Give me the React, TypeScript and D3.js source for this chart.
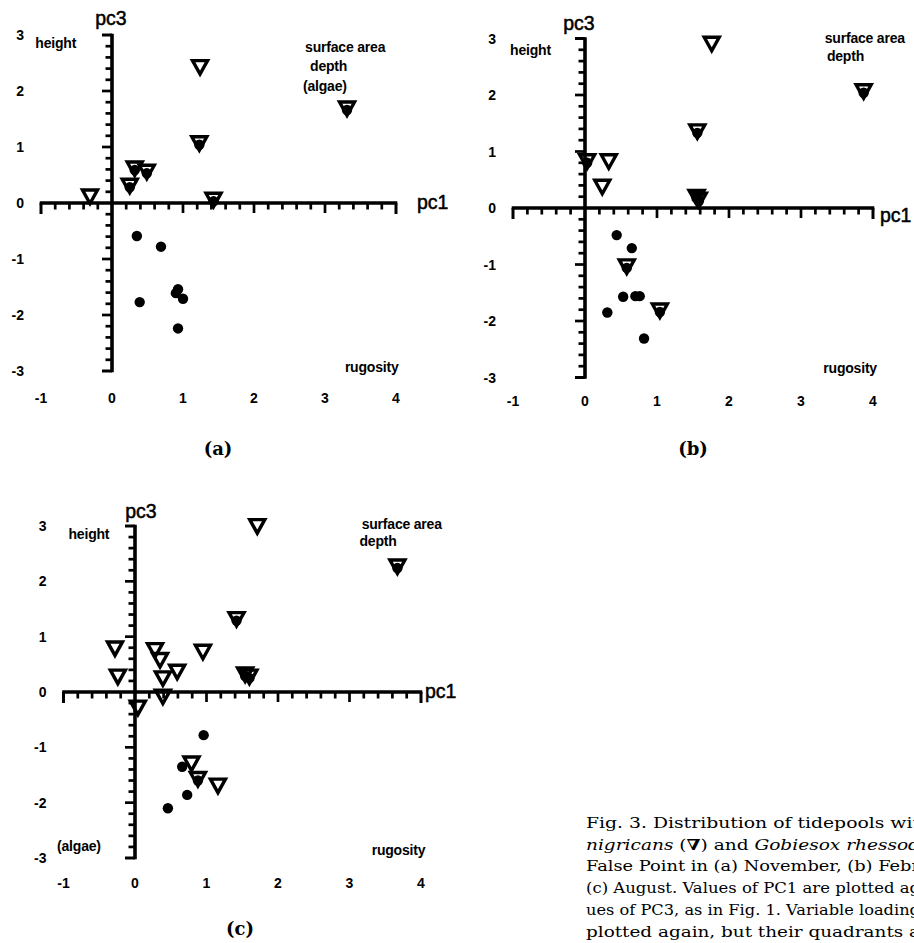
import React from "react";
import * as d3 from "d3";

// Axis tick values (PC1 horizontal, PC3 vertical)
const pc1TickValues = [-1, 0, 1, 2, 3, 4];
const pc3TickValues = [-3, -2, -1, 0, 1, 2, 3];

// Tidepool scores [pc1, pc3]; pools holding both species appear in both lists
// (a) November
const novNigricans: [number, number][] = [
  [1.24, 2.4], [3.31, 1.66], [1.23, 1.04], [0.32, 0.59], [0.49, 0.53],
  [0.25, 0.28], [-0.31, 0.09], [1.43, 0.03],
];
const novGobiesox: [number, number][] = [
  [3.31, 1.66], [1.23, 1.04], [0.32, 0.59], [0.49, 0.53], [0.25, 0.28], [1.43, 0.03],
  [0.35, -0.59], [0.69, -0.78], [0.93, -1.54], [0.9, -1.61],
  [1.0, -1.71], [0.39, -1.77], [0.93, -2.24],
];

// (b) February
const febNigricans: [number, number][] = [
  [1.76, 2.88], [3.87, 2.04], [1.56, 1.33], [0.03, 0.8], [0.33, 0.8],
  [0.24, 0.35], [1.55, 0.17], [1.58, 0.12], [0.58, -1.06], [1.04, -1.84],
];
const febGobiesox: [number, number][] = [
  [3.87, 2.04], [1.56, 1.33], [0.03, 0.8], [1.55, 0.17], [1.58, 0.12],
  [0.58, -1.06], [1.04, -1.84],
  [0.44, -0.48], [0.65, -0.71], [0.53, -1.57], [0.7, -1.56],
  [0.76, -1.56], [0.31, -1.85], [0.82, -2.31],
];

// (c) August
const augNigricans: [number, number][] = [
  [1.71, 2.97], [3.67, 2.24], [1.42, 1.29], [-0.28, 0.76], [0.28, 0.73],
  [0.35, 0.55], [0.95, 0.7], [0.59, 0.34], [-0.24, 0.25], [0.39, 0.22],
  [1.54, 0.29], [1.6, 0.25], [0.39, -0.11], [0.04, -0.31], [0.79, -1.32],
  [0.88, -1.6], [1.16, -1.72],
];
const augGobiesox: [number, number][] = [
  [3.67, 2.24], [1.42, 1.29], [1.54, 0.29], [1.6, 0.25], [0.88, -1.6],
  [0.96, -0.78], [0.66, -1.35], [0.73, -1.86], [0.46, -2.1],
];

// Variable loading labels: text, pc1, pc3 (text start, baseline)
const novLoadings: [string, number, number][] = [
  ["height", -1.08, 2.77],
  ["surface area", 2.72, 2.69],
  ["depth", 2.79, 2.36],
  ["(algae)", 2.69, 2.0],
  ["rugosity", 3.28, -3.01],
];
const febLoadings: [string, number, number][] = [
  ["height", -1.04, 2.7],
  ["surface area", 3.33, 2.92],
  ["depth", 3.36, 2.6],
  ["rugosity", 3.31, -2.92],
];
const augLoadings: [string, number, number][] = [
  ["height", -0.93, 2.76],
  ["surface area", 3.17, 2.94],
  ["depth", 3.14, 2.64],
  ["(algae)", -1.09, -2.87],
  ["rugosity", 3.31, -2.95],
];

const captionLines = [
  "Fig. 3. Distribution of tidepools wit",
  "nigricans (\u2207) and Gobiesox rhessod",
  "False Point in (a) November, (b) Febr",
  "(c) August. Values of PC1 are plotted ag",
  "ues of PC3, as in Fig. 1. Variable loading",
  "plotted again, but their quadrants a",
];

type Layout = {
  left: number; right: number; top: number; bottom: number;
  tickLabelGap: number;
  pc1X: number; pc1Y: number;
  pc3X: number; pc3Y: number;
  tagX: number; tagY: number; tag: string;
};

const SANS = "'Liberation Sans', Arial, Helvetica, sans-serif";
const SERIF = "'DejaVu Serif', 'Liberation Serif', serif";

// Downward triangle, anchored a little below its box centre
const trianglePath = "M-7.5,-8L7.5,-8L0,5.5Z";

function Panel({
  layout, nigricans, gobiesox, loadings,
}: {
  layout: Layout;
  nigricans: [number, number][];
  gobiesox: [number, number][];
  loadings: [string, number, number][];
}) {
  const x = d3.scaleLinear().domain([-1, 4]).range([layout.left, layout.right]);
  const y = d3.scaleLinear().domain([-3, 3]).range([layout.bottom, layout.top]);
  const x0 = x(0);
  const y0 = y(0);
  const isMajor = (v: number) => Math.abs(v - Math.round(v)) < 1e-6;
  const xMinor = d3.range(0, 26).map((i) => -1 + i * 0.2);
  const yMinor = d3.range(0, 31).map((i) => -3 + i * 0.2);

  return (
    <g>
      {/* PC1 axis with ticks hanging below */}
      <line x1={x(-1) - 1.3} x2={x(4) + 1.3} y1={y0} y2={y0} stroke="#000" strokeWidth={3.6} />
      {xMinor.map((v, i) => {
        if (Math.abs(v) < 1e-6) return null;
        const end = Math.abs(v + 1) < 1e-6 || Math.abs(v - 4) < 1e-6;
        const len = end ? 11 : isMajor(v) ? 10 : 6.5;
        return (
          <line key={"xt" + i} x1={x(v)} x2={x(v)} y1={y0} y2={y0 + len}
            stroke="#000" strokeWidth={end ? 3 : 2.7} />
        );
      })}
      {/* PC3 axis with ticks to the left */}
      <line x1={x0} x2={x0} y1={y(3) - 1.3} y2={y(-3) + 1.3} stroke="#000" strokeWidth={3.6} />
      {yMinor.map((v, i) => {
        if (Math.abs(v) < 1e-6) return null;
        const end = Math.abs(Math.abs(v) - 3) < 1e-6;
        const len = end ? 10 : isMajor(v) ? 10 : 6.5;
        return (
          <line key={"yt" + i} x1={x0 - len} x2={x0} y1={y(v)} y2={y(v)}
            stroke="#000" strokeWidth={end ? 3 : 2.7} />
        );
      })}
      {/* Tick labels */}
      {pc1TickValues.map((v) => (
        <text key={"xl" + v} x={x(v)} y={layout.bottom + layout.tickLabelGap}
          textAnchor="middle" fontFamily={SANS} fontWeight="bold" fontSize={14}>
          {v}
        </text>
      ))}
      {pc3TickValues.map((v) => (
        <text key={"yl" + v} x={layout.left - 17} y={y(v)} dy="0.36em"
          textAnchor="end" fontFamily={SANS} fontWeight="bold" fontSize={14}>
          {v}
        </text>
      ))}
      {/* Axis names */}
      <text x={layout.pc3X} y={layout.pc3Y} textAnchor="middle" fontFamily={SANS} fontSize={19.5}
        stroke="#000" strokeWidth={0.5}>pc3</text>
      <text x={layout.pc1X} y={layout.pc1Y} fontFamily={SANS} fontSize={19.5}
        stroke="#000" strokeWidth={0.5}>pc1</text>
      {/* Variable loadings */}
      {loadings.map(([t, a, b]) => (
        <text key={t} x={x(a)} y={y(b)} fontFamily={SANS} fontWeight="bold"
          fontSize={14} letterSpacing={-0.2}>
          {t}
        </text>
      ))}
      {/* Gobiesox pools */}
      {gobiesox.map(([a, b], i) => (
        <circle key={"g" + i} cx={x(a)} cy={y(b)} r={5.2} fill="#000" />
      ))}
      {/* nigricans pools */}
      {nigricans.map(([a, b], i) => (
        <path key={"n" + i} d={trianglePath} transform={`translate(${x(a)},${y(b)})`}
          fill="none" stroke="#000" strokeWidth={3.4} strokeLinejoin="miter" />
      ))}
      {/* Panel tag */}
      <text x={layout.tagX} y={layout.tagY} textAnchor="middle" fontFamily={SERIF}
        fontWeight="bold" fontSize={18}>
        {layout.tag}
      </text>
    </g>
  );
}

const layoutA: Layout = {
  left: 41, right: 396, top: 35, bottom: 371, tickLabelGap: 32,
  pc1X: 417, pc1Y: 209, pc3X: 111, pc3Y: 25, tagX: 218, tagY: 455, tag: "(a)",
};
const layoutB: Layout = {
  left: 513, right: 873, top: 38.5, bottom: 377.5, tickLabelGap: 28,
  pc1X: 880, pc1Y: 222, pc3X: 579, pc3Y: 30, tagX: 693, tagY: 455, tag: "(b)",
};
const layoutC: Layout = {
  left: 63.5, right: 421, top: 526, bottom: 858, tickLabelGap: 30,
  pc1X: 425, pc1Y: 698, pc3X: 141, pc3Y: 518, tagX: 240, tagY: 935, tag: "(c)",
};

function Caption() {
  const left = 586;
  const width = 334;
  const top = 828;
  const step = 21.7;
  return (
    <g fontFamily={SERIF} fontSize={15}>
      {captionLines.map((line, i) => {
        if (i === 1) {
          return (
            <text key={i} x={left} y={top + i * step} textLength={width} lengthAdjust="spacingAndGlyphs">
              <tspan fontStyle="italic">nigricans</tspan>
              <tspan> (</tspan>
              <tspan fontWeight="bold">{"\u2207"}</tspan>
              <tspan>) and </tspan>
              <tspan fontStyle="italic">Gobiesox rhessod</tspan>
            </text>
          );
        }
        return (
          <text key={i} x={left} y={top + i * step} textLength={width} lengthAdjust="spacingAndGlyphs">
            {line}
          </text>
        );
      })}
    </g>
  );
}

export default function App() {
  return (
    <svg width={914} height={943} viewBox="0 0 914 943"
      style={{ position: "absolute", left: 0, top: 0, background: "#fff" }}>
      <rect x={0} y={0} width={914} height={943} fill="#fff" />
      <Panel layout={layoutA} nigricans={novNigricans} gobiesox={novGobiesox} loadings={novLoadings} />
      <Panel layout={layoutB} nigricans={febNigricans} gobiesox={febGobiesox} loadings={febLoadings} />
      <Panel layout={layoutC} nigricans={augNigricans} gobiesox={augGobiesox} loadings={augLoadings} />
      <Caption />
    </svg>
  );
}
